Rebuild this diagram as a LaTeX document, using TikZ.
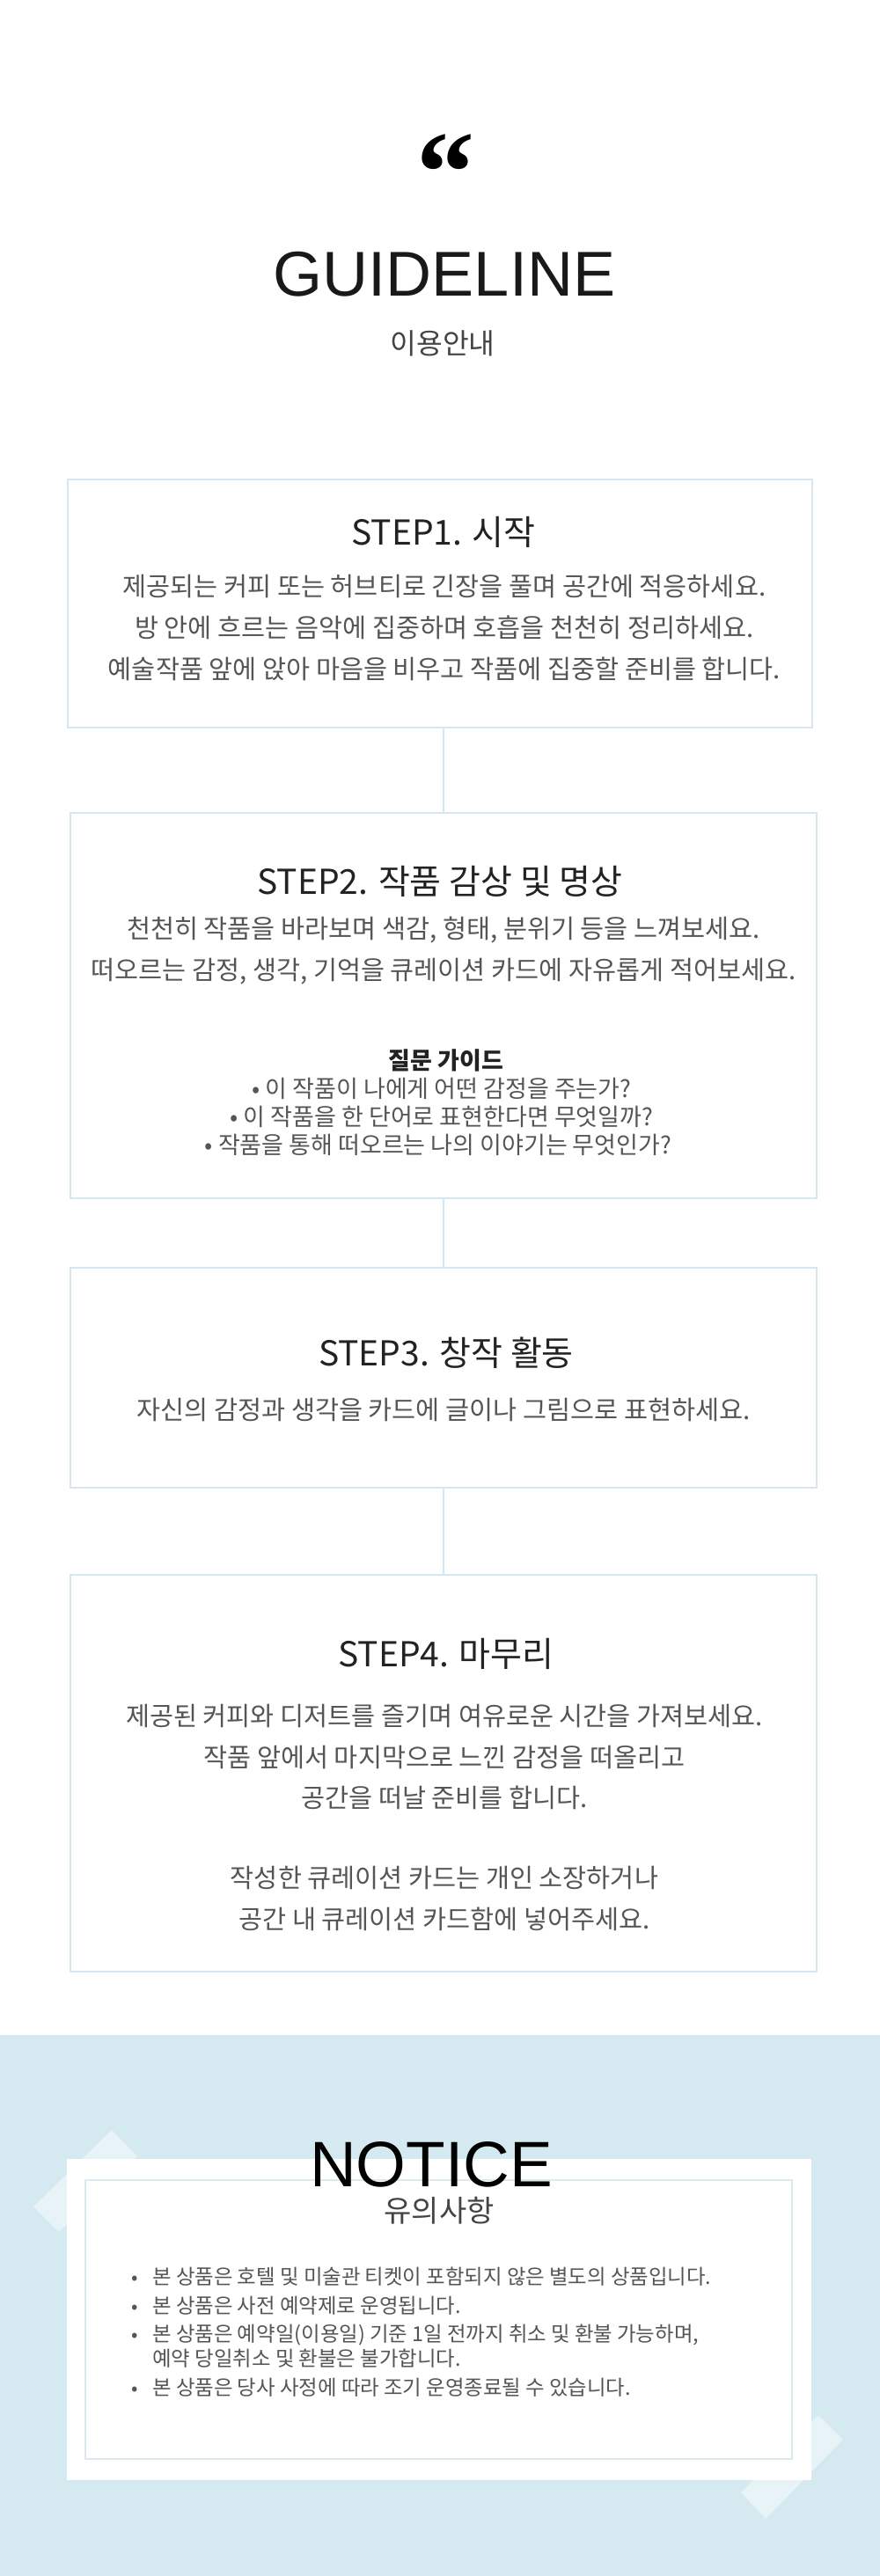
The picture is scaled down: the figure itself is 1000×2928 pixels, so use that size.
\documentclass[tikz,border=0pt]{standalone}
\usepackage{fontspec}
\usepackage{xcolor}
\setmainfont{Noto Sans CJK KR}
\newfontfamily\headfont{Liberation Sans}
\newfontfamily\quotefont{Liberation Serif}
\definecolor{boxblue}{HTML}{D5E8F2}
\definecolor{bandblue}{HTML}{D5E9F0}
\definecolor{lozenge}{HTML}{E7F3F7}
\definecolor{cardline}{HTML}{DCE9EF}
\definecolor{textgrey}{HTML}{555555}
\definecolor{subgrey}{HTML}{444444}
\definecolor{titlegrey}{HTML}{222222}
\tikzset{
  stepbox/.style={draw=boxblue, line width=1pt, inner sep=0pt, minimum width=424pt},
  link/.style={draw=boxblue, line width=1pt},
  steptitle/.style={anchor=base, inner sep=0pt, text=titlegrey, font=\fontsize{19.5pt}{23pt}\selectfont},
  bodyline/.style={anchor=base, inner sep=0pt, text=textgrey, font=\fontsize{14.7pt}{17pt}\selectfont},
  guideline/.style={anchor=base, inner sep=0pt, text=textgrey, font=\fontsize{13.5pt}{16pt}\selectfont},
  noteline/.style={anchor=base west, inner sep=0pt, text=textgrey, font=\fontsize{11.7pt}{14pt}\selectfont},
  notedot/.style={anchor=base, inner sep=0pt, text=textgrey, font=\fontsize{11pt}{13pt}\selectfont}
}

\begin{document}
\begin{tikzpicture}[x=0.5pt, y=-0.5pt]
	\fill[white] (0,0) rectangle (1000,2928);
	\useasboundingbox (0,0) rectangle (1000,2928);

	% heading
	\node[anchor=north, inner sep=0pt, font=\quotefont\bfseries\fontsize{66pt}{66pt}\selectfont] (quote) at (506,152) {“};
	\node[anchor=base, inner sep=0pt, font=\headfont\fontsize{36pt}{40pt}\selectfont, text=black!90] (guide) at (505,336) {GUIDELINE};
	\node[anchor=base, inner sep=0pt, font=\fontsize{16.2pt}{19pt}\selectfont, text=subgrey] (guidesub) at (503,402) {이용안내};

	% step boxes
	\node[stepbox, minimum width=423pt, minimum height=141pt] (box1) at (500,686) {};
	\node[stepbox, minimum height=219pt] (box2) at (504,1143) {};
	\node[stepbox, minimum height=125pt] (box3) at (504,1566) {};
	\node[stepbox, minimum height=225.5pt] (box4) at (504,2015.5) {};
	\draw[link] (box2.north |- box1.south) -- (box2.north);
	\draw[link] (box2.south) -- (box3.north);
	\draw[link] (box3.south) -- (box4.north);

	% step 1
	\node[steptitle] (t1) at (504,619) {STEP1. 시작};
	\node[bodyline] (l1a) at (505,677) {제공되는 커피 또는 허브티로 긴장을 풀며 공간에 적응하세요.};
	\node[bodyline] (l1b) at (505,724) {방 안에 흐르는 음악에 집중하며 호흡을 천천히 정리하세요.};
	\node[bodyline] (l1c) at (505,771) {예술작품 앞에 앉아 마음을 비우고 작품에 집중할 준비를 합니다.};

	% step 2
	\node[steptitle] (t2) at (500,1016) {STEP2. 작품 감상 및 명상};
	\node[bodyline] (l2a) at (504,1066) {천천히 작품을 바라보며 색감, 형태, 분위기 등을 느껴보세요.};
	\node[bodyline] (l2b) at (504,1113) {떠오르는 감정, 생각, 기억을 큐레이션 카드에 자유롭게 적어보세요.};
	\node[anchor=base, inner sep=0pt, text=titlegrey, font=\bfseries\fontsize{13.5pt}{16pt}\selectfont] (q0) at (507,1215) {질문 가이드};
	\node[guideline] (q1) at (502,1247) {• 이 작품이 나에게 어떤 감정을 주는가?};
	\node[guideline] (q2) at (502,1279) {• 이 작품을 한 단어로 표현한다면 무엇일까?};
	\node[guideline] (q3) at (498,1311) {• 작품을 통해 떠오르는 나의 이야기는 무엇인가?};

	% step 3
	\node[steptitle] (t3) at (507,1552) {STEP3. 창작 활동};
	\node[bodyline] (l3a) at (504,1613) {자신의 감정과 생각을 카드에 글이나 그림으로 표현하세요.};

	% step 4
	\node[steptitle] (t4) at (507,1894) {STEP4. 마무리};
	\node[bodyline] (l4a) at (505,1961) {제공된 커피와 디저트를 즐기며 여유로운 시간을 가져보세요.};
	\node[bodyline] (l4b) at (505,2008) {작품 앞에서 마지막으로 느낀 감정을 떠올리고};
	\node[bodyline] (l4c) at (505,2054) {공간을 떠날 준비를 합니다.};
	\node[bodyline] (l4d) at (505,2145) {작성한 큐레이션 카드는 개인 소장하거나};
	\node[bodyline] (l4e) at (505,2192) {공간 내 큐레이션 카드함에 넣어주세요.};

	% notice band
	\fill[bandblue] (0,2313) rectangle (1000,2928);
	\fill[lozenge] (127,2421) -- (156,2451) -- (67,2537) -- (38,2508) -- cycle;
	\fill[lozenge] (930,2745) -- (958,2773) -- (870,2863) -- (842,2833) -- cycle;
	\fill[white] (76,2454) rectangle (922,2819);
	\draw[cardline, line width=1pt] (97,2478) rectangle (900,2795);

	\node[anchor=base, inner sep=0pt, font=\headfont\fontsize{36.5pt}{40pt}\selectfont, text=black] (notice) at (490,2485) {NOTICE};
	\node[anchor=base, inner sep=0pt, font=\fontsize{17pt}{20pt}\selectfont, text=subgrey] (noticesub) at (499,2525) {유의사항};

	\node[notedot] (d1) at (153,2596) {•};
	\node[noteline] (n1) at (173,2596) {본 상품은 호텔 및 미술관 티켓이 포함되지 않은 별도의 상품입니다.};
	\node[notedot] (d2) at (153,2629) {•};
	\node[noteline] (n2) at (173,2629) {본 상품은 사전 예약제로 운영됩니다.};
	\node[notedot] (d3) at (153,2661) {•};
	\node[noteline] (n3) at (173,2661) {본 상품은 예약일(이용일) 기준 1일 전까지 취소 및 환불 가능하며,};
	\node[noteline] (n3b) at (173,2689) {예약 당일취소 및 환불은 불가합니다.};
	\node[notedot] (d4) at (153,2722) {•};
	\node[noteline] (n4) at (173,2722) {본 상품은 당사 사정에 따라 조기 운영종료될 수 있습니다.};
\end{tikzpicture}
\end{document}
